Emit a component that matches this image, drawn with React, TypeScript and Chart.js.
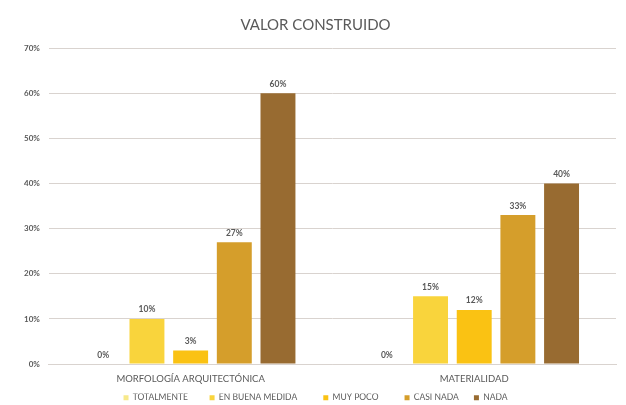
import React, { useEffect, useRef } from "react";
import { Chart, registerables } from "chart.js";

Chart.register(...registerables);

const categories = ["MORFOLOGÍA ARQUITECTÓNICA", "MATERIALIDAD"];
const seriesNames = ["TOTALMENTE", "EN BUENA MEDIDA", "MUY POCO", "CASI NADA", "NADA"];
const totalmente = [0, 0];
const enBuenaMedida = [10, 15];
const muyPoco = [3, 12];
const casiNada = [27, 33];
const nada = [60, 40];
const seriesValues = [totalmente, enBuenaMedida, muyPoco, casiNada, nada];
const seriesColors = ["#F7E98A", "#F9D43C", "#FAC213", "#D59E2B", "#986B31"];
const legendGaps = [10, 12, 12, 7, 0];
const yMax = 70;
const yStep = 10;

const labelPlugin = {
  id: "barLabels",
  afterDatasetsDraw(chart: any) {
    const ctx = chart.ctx;
    ctx.save();
    ctx.font = "bold 8.5px Lato";
    ctx.fillStyle = "#595959";
    ctx.textAlign = "center";
    ctx.textBaseline = "bottom";
    chart.data.datasets.forEach((ds: any, i: number) => {
      const meta = chart.getDatasetMeta(i);
      meta.data.forEach((el: any, j: number) => {
        ctx.fillText(ds.data[j] + "%", el.x, el.y - 5);
      });
    });
    ctx.restore();
  },
};

export default function App() {
  const ref = useRef<HTMLCanvasElement>(null);
  useEffect(() => {
    document.body.style.margin = "0";
    const chart = new Chart(ref.current!, {
      type: "bar",
      data: {
        labels: categories,
        datasets: seriesNames.map((n, i) => ({
          label: n,
          data: seriesValues[i],
          backgroundColor: seriesColors[i],
          barPercentage: 0.8,
          categoryPercentage: 0.77,
        })),
      },
      options: {
        animation: false,
        responsive: false,
        layout: { padding: { top: 0, left: 15, right: 10, bottom: -7 } },
        plugins: {
          title: {
            display: true,
            text: "VALOR CONSTRUIDO",
            color: "#595959",
            font: { family: "Lato", size: 15, weight: "normal" },
            padding: { top: 16, bottom: 14 },
          },
          legend: {
            position: "bottom",
            labels: {
              boxWidth: 5,
              boxHeight: 5,
              color: "#595959",
              font: { family: "Lato", size: 8.5 },
              padding: 0,
              generateLabels: (chart: any) => {
                const items = Chart.defaults.plugins.legend.labels.generateLabels(chart);
                return items.map((it: any, i: number) => ({
                  ...it,
                  text: it.text + " ".repeat(legendGaps[i]),
                }));
              },
            },
          },
          tooltip: { enabled: false },
        },
        scales: {
          x: {
            grid: { display: false, drawTicks: false },
            border: { color: "#D9D3CF" },
            ticks: { color: "#595959", font: { family: "Lato", size: 9.5 }, padding: 9 },
          },
          y: {
            min: 0,
            max: yMax,
            ticks: {
              stepSize: yStep,
              color: "#595959",
              font: { family: "Lato", size: 8, weight: "bold" },
              padding: 9,
              callback: (v: any) => v + "%",
            },
            grid: { color: "#D9D3CF", drawTicks: false },
            border: { display: false },
          },
        },
      },
      plugins: [labelPlugin],
    });
    return () => chart.destroy();
  }, []);
  return <canvas ref={ref} width={626} height={405} style={{ display: "block" }} />;
}
